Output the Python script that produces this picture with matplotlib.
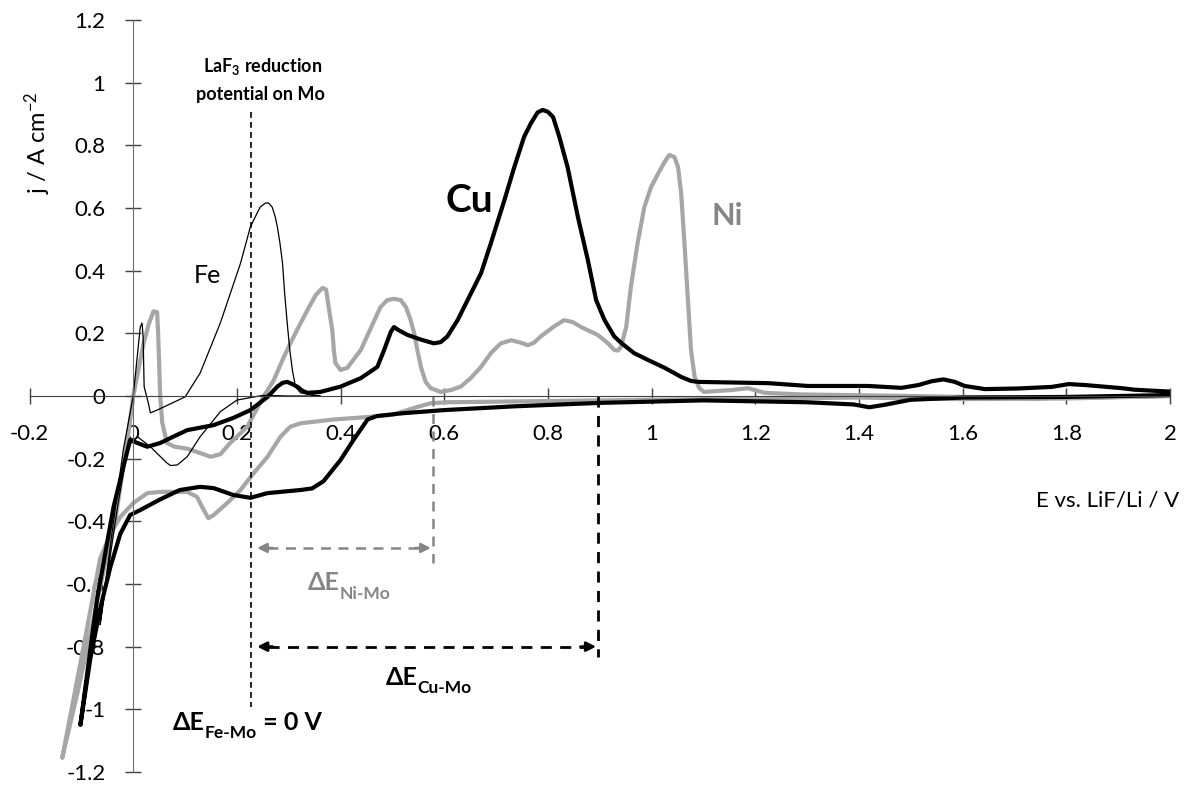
import numpy as np
import matplotlib
matplotlib.use("Agg")
import matplotlib.pyplot as plt

plt.rcParams['font.family'] = ['Lato', 'DejaVu Sans']
plt.rcParams['axes.unicode_minus'] = False
plt.rcParams['mathtext.fontset'] = 'custom'
plt.rcParams['mathtext.rm'] = 'Lato'
plt.rcParams['mathtext.bf'] = 'Lato:bold'
plt.rcParams['mathtext.default'] = 'regular'

# --- data: E (V vs LiF/Li), j (A cm-2) ---
# Cu: cathodic sweep from 2 V down, then anodic sweep back up
cu_E = [2.0, 1.8, 1.6, 1.5, 1.45, 1.42, 1.39, 1.3, 1.1, 0.9, 0.735, 0.6, 0.52, 0.47,
        0.452, 0.425, 0.40, 0.367, 0.345, 0.323, 0.259, 0.226, 0.193, 0.155, 0.129,
        0.09, 0.052, 0.0135, -0.006, -0.025, -0.044, -0.064, -0.083, -0.102,
        -0.098, -0.07, -0.038, -0.019, -0.006, 0.008, 0.027, 0.052, 0.077, 0.104,
        0.155, 0.193, 0.226, 0.259, 0.278, 0.288, 0.297, 0.307, 0.317, 0.327, 0.336,
        0.361, 0.40, 0.439, 0.471, 0.484, 0.497, 0.503, 0.512, 0.529, 0.555, 0.58,
        0.593, 0.606, 0.626, 0.645, 0.671, 0.69, 0.716, 0.735, 0.754, 0.767, 0.78,
        0.79, 0.80, 0.81, 0.822, 0.838, 0.858, 0.877, 0.893, 0.909, 0.928, 0.941,
        0.966, 0.993, 1.025, 1.057, 1.076, 1.09, 1.225, 1.302, 1.418, 1.482, 1.515,
        1.54, 1.563, 1.585, 1.604, 1.643, 1.708, 1.772, 1.805, 1.836, 1.907, 1.932, 2.0]
cu_j = [0.003, -0.003, -0.005, -0.012, -0.028, -0.036, -0.027, -0.02, -0.014, -0.022,
        -0.033, -0.045, -0.055, -0.064, -0.075, -0.14, -0.204, -0.272, -0.295, -0.30,
        -0.31, -0.325, -0.316, -0.294, -0.29, -0.30, -0.33, -0.364, -0.38, -0.44,
        -0.545, -0.68, -0.84, -1.05,
        -1.0, -0.65, -0.354, -0.226, -0.14, -0.15, -0.162, -0.15, -0.13, -0.109,
        -0.093, -0.07, -0.045, -0.003, 0.03, 0.042, 0.045, 0.038, 0.029, 0.016, 0.01,
        0.013, 0.03, 0.057, 0.093, 0.147, 0.205, 0.22, 0.21, 0.195, 0.18, 0.168,
        0.172, 0.19, 0.243, 0.306, 0.392, 0.488, 0.625, 0.73, 0.827, 0.87, 0.905,
        0.913, 0.907, 0.89, 0.827, 0.73, 0.57, 0.434, 0.306, 0.243, 0.19, 0.17,
        0.137, 0.115, 0.09, 0.061, 0.048, 0.045, 0.041, 0.032, 0.032, 0.026, 0.035,
        0.047, 0.053, 0.045, 0.032, 0.022, 0.024, 0.029, 0.038, 0.035, 0.025, 0.02, 0.014]

ni_E = [2.0, 1.8, 1.6, 1.4, 1.2, 1.0, 0.8, 0.606, 0.574, 0.548, 0.5, 0.452, 0.387,
        0.323, 0.303, 0.284, 0.259, 0.232, 0.207, 0.181, 0.155, 0.145, 0.136, 0.123,
        0.104, 0.052, 0.027, 0.0, -0.025, -0.044, -0.064, -0.097, -0.137,
        -0.108, -0.077, -0.05, -0.035, -0.025, -0.012, 0.0, 0.02, 0.03, 0.039, 0.046,
        0.048, 0.052, 0.056, 0.065, 0.08, 0.104, 0.129, 0.149, 0.168, 0.187, 0.22,
        0.251, 0.271, 0.288, 0.303, 0.319, 0.336, 0.352, 0.365, 0.372, 0.377, 0.384,
        0.387, 0.39, 0.40, 0.413, 0.439, 0.477, 0.49, 0.503, 0.516, 0.526, 0.535,
        0.542, 0.548, 0.555, 0.564, 0.574, 0.593, 0.613, 0.632, 0.651, 0.671, 0.69,
        0.709, 0.729, 0.748, 0.761, 0.773, 0.786, 0.81, 0.831, 0.848, 0.864, 0.896,
        0.916, 0.928, 0.935, 0.941, 0.951, 0.96, 0.973, 0.986, 0.999, 1.013, 1.025,
        1.034, 1.044, 1.051, 1.057, 1.063, 1.07, 1.076, 1.083, 1.092, 1.101, 1.154,
        1.186, 1.218, 1.29, 1.5, 1.74, 1.9, 2.0]
ni_j = [0.0, -0.008, -0.01, -0.005, -0.008, -0.012, -0.016, -0.02, -0.023, -0.035,
        -0.06, -0.067, -0.075, -0.087, -0.098, -0.13, -0.194, -0.247, -0.30, -0.342,
        -0.38, -0.39, -0.364, -0.322, -0.306, -0.306, -0.31, -0.342, -0.386, -0.44,
        -0.52, -0.81, -1.155,
        -0.95, -0.715, -0.50, -0.40, -0.29, -0.15, 0.0, 0.168, 0.23, 0.27, 0.268,
        0.2, 0.0, -0.086, -0.15, -0.162, -0.168, -0.182, -0.194, -0.186, -0.15, -0.098,
        -0.003, 0.05, 0.115, 0.168, 0.22, 0.274, 0.322, 0.345, 0.34, 0.284, 0.21,
        0.147, 0.105, 0.083, 0.09, 0.147, 0.284, 0.306, 0.31, 0.306, 0.284, 0.243,
        0.2, 0.147, 0.093, 0.045, 0.025, 0.013, 0.019, 0.03, 0.057, 0.093, 0.137,
        0.168, 0.178, 0.17, 0.162, 0.17, 0.19, 0.22, 0.242, 0.236, 0.22, 0.195,
        0.168, 0.147, 0.145, 0.157, 0.22, 0.348, 0.488, 0.603, 0.667, 0.711, 0.747,
        0.769, 0.763, 0.731, 0.648, 0.497, 0.306, 0.147, 0.061, 0.025, 0.013, 0.019,
        0.025, 0.01, 0.005, 0.0, -0.007, -0.003, 0.0]

fe_E = [0.36, 0.3, 0.25, 0.2, 0.168, 0.129, 0.104, 0.085, 0.072, 0.065, 0.033, 0.008,
        -0.01, -0.03, -0.064,
        -0.05, -0.03, -0.019, 0.0, 0.0135, 0.017, 0.019, 0.021, 0.029, 0.033, 0.046,
        0.10, 0.129, 0.168, 0.207, 0.226, 0.24, 0.245, 0.255, 0.261, 0.268, 0.274,
        0.278, 0.283, 0.288, 0.292, 0.297, 0.302, 0.307, 0.313, 0.323, 0.36]
fe_j = [0.0, 0.0, 0.002, -0.013, -0.05, -0.13, -0.194, -0.22, -0.222, -0.214, -0.162,
        -0.13, -0.16, -0.35, -0.73,
        -0.55, -0.3, -0.17, 0.0, 0.22, 0.233, 0.19, 0.03, -0.022, -0.054, -0.045,
        -0.003, 0.073, 0.233, 0.424, 0.54, 0.587, 0.603, 0.616, 0.616, 0.603, 0.571,
        0.54, 0.488, 0.424, 0.329, 0.233, 0.147, 0.083, 0.029, 0.01, 0.0]

x_ticks = [-0.2, 0, 0.2, 0.4, 0.6, 0.8, 1, 1.2, 1.4, 1.6, 1.8, 2]
y_ticks = [-1.2, -1, -0.8, -0.6, -0.4, -0.2, 0, 0.2, 0.4, 0.6, 0.8, 1, 1.2]

# reduction potentials used for the delta-E markers
E_mo = 0.228
E_ni = 0.578
E_cu = 0.897

GRAY = '#a6a6a6'
DARKGRAY = '#858585'

fig = plt.figure(figsize=(11.88, 7.85), dpi=100)
ax = fig.add_axes([0.0249, 0.0166, 0.9599, 0.9579])

ax.plot(ni_E, ni_j, color=GRAY, lw=3.0, solid_joinstyle='round')
ax.plot(cu_E, cu_j, color='black', lw=3.0, solid_joinstyle='round')
ax.plot(fe_E, fe_j, color='black', lw=0.9)

ax.set_xlim(-0.2, 2.0)
ax.set_ylim(-1.2, 1.2)
ax.spines['left'].set_position(('data', 0))
ax.spines['bottom'].set_position(('data', 0))
ax.spines['top'].set_visible(False)
ax.spines['right'].set_visible(False)
ax.spines['left'].set_color('#6e6e6e')
ax.spines['bottom'].set_color('#404040')
ax.set_xticks(x_ticks)
ax.set_yticks(y_ticks)
ax.set_xticklabels([f'{v:g}' for v in x_ticks])
ax.set_yticklabels([f'{v:g}' for v in y_ticks])
ax.tick_params(axis='x', direction='inout', length=12, width=1, color='#404040',
               pad=14, labelsize=16)
ax.tick_params(axis='y', direction='inout', length=12, width=1, color='#404040',
               pad=14, labelsize=16)

fig.text(38 / 1188, 1 - 143 / 785, 'j / A cm$^{-2}$', rotation=90,
         ha='center', va='center', fontsize=17)
ax.text(2.017, -0.354, 'E vs. LiF/Li / V', ha='right', va='baseline', fontsize=16)

# LaF3 reduction potential marker
ax.plot([E_mo, E_mo], [0.906, -0.993], color='black', lw=1.2, ls=(0, (3.5, 2.5)))
ax.text(0.25, 1.034, 'LaF$_3$ reduction', ha='center', va='baseline',
        fontsize=13, fontweight='bold')
ax.text(0.245, 0.945, 'potential on Mo', ha='center', va='baseline',
        fontsize=13, fontweight='bold')

ax.text(0.116, 0.36, 'Fe', fontsize=18, va='baseline')
ax.text(0.603, 0.587, 'Cu', fontsize=28, fontweight='bold', va='baseline')
ax.text(1.115, 0.546, 'Ni', fontsize=22, fontweight='bold', color=DARKGRAY, va='baseline')

# Ni-Mo and Cu-Mo spacing
ax.plot([E_ni, E_ni], [0.0, -0.533], color=DARKGRAY, lw=1.8, ls=(0, (4, 3)))
ax.plot([E_cu, E_cu], [0.0, -0.833], color='black', lw=2.0, ls=(0, (4, 3)))


def darrow(x0, x1, y, color, lw):
    ax.plot([x0 + 0.02, x1 - 0.02], [y, y], color=color, lw=lw, ls=(0, (4, 3)))
    for a, b in ((x0, x0 + 0.03), (x1, x1 - 0.03)):
        ax.annotate('', xy=(a, y), xytext=(b, y),
                    arrowprops=dict(arrowstyle='-|>', color=color, lw=lw,
                                    mutation_scale=14, shrinkA=0, shrinkB=0))


darrow(E_mo + 0.011, E_ni - 0.004, -0.485, DARKGRAY, 1.8)
darrow(E_mo + 0.011, E_cu - 0.004, -0.80, 'black', 2.0)

renderer = fig.canvas.get_renderer()


def delta_label(x, y, sub, tail, color):
    t = ax.text(x, y, '\u0394E', fontsize=18, fontweight='bold', color=color,
                va='baseline')
    w = t.get_window_extent(renderer).width * 72 / fig.dpi
    s = ax.annotate(sub, xy=(x, y), xytext=(w, -6), textcoords='offset points',
                    fontsize=12.5, fontweight='bold', color=color, va='baseline')
    if tail:
        w2 = s.get_window_extent(renderer).width * 72 / fig.dpi
        ax.annotate(tail, xy=(x, y), xytext=(w + w2, 0), textcoords='offset points',
                    fontsize=18, fontweight='bold', color=color, va='baseline')


delta_label(0.336, -0.62, 'Ni-Mo', '', DARKGRAY)
delta_label(0.487, -0.922, 'Cu-Mo', '', 'black')
delta_label(0.077, -1.066, 'Fe-Mo', ' = 0 V', 'black')

fig.savefig('out.png', dpi=100)
